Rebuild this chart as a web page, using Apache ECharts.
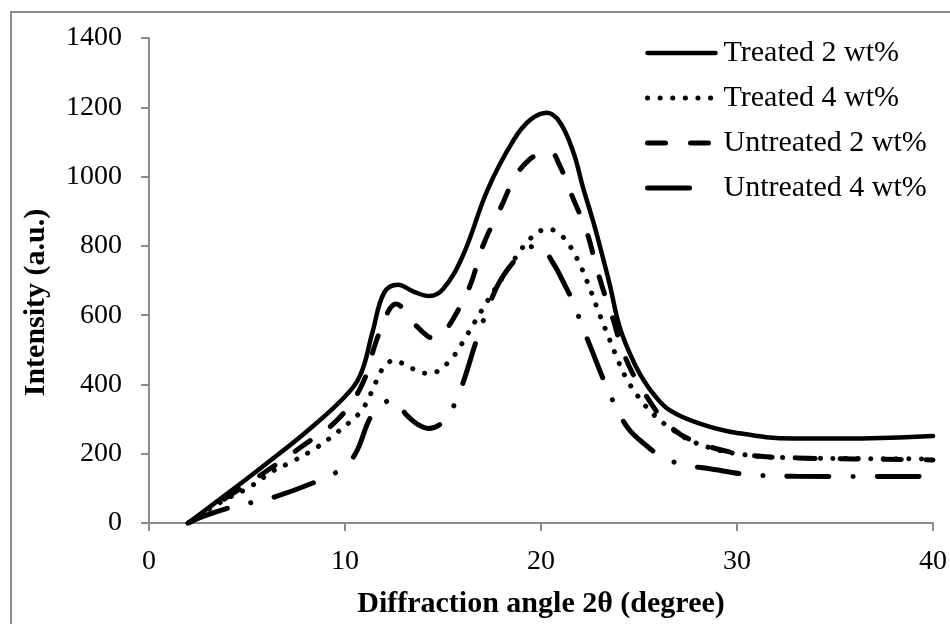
<!DOCTYPE html>
<html>
<head>
<meta charset="utf-8">
<script src="https://cdn.jsdelivr.net/npm/echarts@6/dist/echarts.min.js"></script>
<style>
  html, body { margin: 0; padding: 0; background: #fff; }
  #chart { width: 950px; height: 624px; }
</style>
</head>
<body>
<div id="chart"></div>
<script>
// series names (legend order)
const seriesNames = ["Treated 2 wt%", "Treated 4 wt%", "Untreated 2 wt%", "Untreated 4 wt%"];

// Treated 2 wt% (solid)
const treated2Angle = [2, 4, 6, 8, 10, 10.8, 11.4, 12, 12.7, 13.5, 14.3, 15, 16, 17.3, 18.6, 19.44, 20.3, 20.97, 21.65, 22.16, 22.67, 23, 23.5, 24, 24.54, 25.05, 25.73, 26.58, 28.1, 30, 32.9, 36, 40];
const treated2Int = [0, 85, 172, 262, 365, 430, 550, 665, 688, 668, 655, 675, 770, 965, 1105, 1163, 1184, 1156, 1070, 965, 869, 800, 690, 568, 488, 430, 373, 325, 287, 260, 244, 244, 251];

// Treated 4 wt% (dotted)
const treated4Angle = [2, 3.6, 5.2, 6.3, 7.4, 8.5, 9.5, 10.4, 10.85, 11.2, 11.45, 11.7, 12, 12.5, 13.06, 13.66, 14.2, 14.8, 15.27, 15.66, 16, 16.63, 17.26, 18, 18.93, 19.35, 19.81, 20.4, 20.97, 21.4, 21.7, 22, 22.47, 22.9, 23.35, 23.81, 24.3, 24.97, 25.78, 26.75, 27.86, 30, 33, 36, 40];
const treated4Int = [0, 58, 106, 149, 180, 216, 257, 299, 325, 359, 392, 421, 452, 469, 457, 440, 432, 440, 464, 490, 521, 581, 640, 705, 785, 814, 839, 848, 833, 806, 777, 745, 680, 615, 551, 486, 423, 364, 311, 268, 232, 200, 188, 186, 185];

// Untreated 2 wt% (dashed)
const untreated2Angle = [2, 4, 6, 7.9, 9.6, 10.85, 11.6, 12.2, 12.6, 13.4, 14.2, 14.6, 15.1, 15.7, 16.4, 17.05, 18, 18.67, 19.35, 20, 20.46, 20.97, 21.57, 22.33, 22.84, 23.3, 23.6, 24.3, 25.3, 26.6, 28.1, 30.5, 33, 36, 40];
const untreated2Int = [0, 75, 150, 225, 297, 397, 526, 610, 632, 583, 540, 533, 555, 607, 688, 802, 917, 998, 1046, 1068, 1072, 1030, 946, 841, 736, 650, 602, 478, 373, 278, 230, 197, 188, 185, 182];

// Untreated 4 wt% (long dash dot)
const untreated4Angle = [2, 2.8, 4.1, 5.3, 6.5, 8.55, 9.7, 10.5, 11.36, 12.1, 12.5, 13.15, 13.7, 14.25, 15, 15.66, 16.1, 16.7, 17.3, 17.9, 18.8, 19.4, 19.9, 20.6, 21.1, 21.65, 22.07, 22.5, 23.35, 23.86, 24.45, 25.3, 26.16, 27.26, 28.45, 30.75, 33, 40];
const untreated4Int = [0, 20, 44, 60, 77, 120, 152, 197, 311, 350, 355, 311, 285, 273, 292, 351, 418, 526, 620, 698, 767, 795, 800, 752, 700, 636, 573, 512, 392, 332, 273, 227, 192, 168, 158, 139, 135, 134];

// axis ticks
const xTicks = [0, 10, 20, 30, 40];
const yTicks = [0, 200, 400, 600, 800, 1000, 1200, 1400];

const pairs = (xs, ys) => xs.map((x, i) => [x, ys[i]]);

const font = "Liberation Serif";
const axisGray = "#8c8c8c";

const lineStyles = [
  { color: "#000", width: 4.5, type: "solid", cap: "round" },
  { color: "#000", width: 5, type: [0.1, 12.5], cap: "round" },
  { color: "#000", width: 5, type: [18, 25], cap: "round" },
  { color: "#000", width: 5, type: [42, 24, 0.1, 24], cap: "round" },
];
const seriesData = [
  pairs(treated2Angle, treated2Int),
  pairs(treated4Angle, treated4Int),
  pairs(untreated2Angle, untreated2Int),
  pairs(untreated4Angle, untreated4Int),
];

const myChart = echarts.init(document.getElementById("chart"));

const option = {
  animation: false,
  backgroundColor: "#fff",
  graphic: [
    {
      type: "rect",
      shape: { x: 11, y: 12, width: 960, height: 640 },
      style: { fill: "none", stroke: axisGray, lineWidth: 2 },
      silent: true,
    },
  ],
  grid: { left: 149, right: 17, top: 38, bottom: 97 },
  legend: {
    orient: "vertical",
    left: 640,
    top: 33,
    itemWidth: 68,
    itemHeight: 14,
    itemGap: 15,
    textStyle: { fontFamily: font, fontSize: 30, color: "#000", lineHeight: 30, padding: [0, 0, 0, 3] },
    data: seriesNames.map((n, i) => ({
      name: n,
      itemStyle: { opacity: 0 },
      lineStyle: i === 3 ? { type: [42, 40], cap: "round", width: 5, color: "#000" } : lineStyles[i],
    })),
  },
  xAxis: {
    type: "value",
    min: xTicks[0],
    max: xTicks[xTicks.length - 1],
    interval: 10,
    name: "Diffraction angle 2θ (degree)",
    nameLocation: "middle",
    nameGap: 66,
    nameTextStyle: { fontFamily: font, fontSize: 30, fontWeight: "bold", color: "#000" },
    axisLine: { onZero: false, lineStyle: { color: axisGray, width: 2 } },
    axisTick: { show: true, length: 8, lineStyle: { color: axisGray, width: 2 } },
    axisLabel: { fontFamily: font, fontSize: 28, color: "#000", margin: 25, formatter: (v) => String(v) },
    splitLine: { show: false },
  },
  yAxis: {
    type: "value",
    min: yTicks[0],
    max: yTicks[yTicks.length - 1],
    interval: 200,
    name: "Intensity (a.u.)",
    nameLocation: "middle",
    nameGap: 98,
    nameTextStyle: { fontFamily: font, fontSize: 30, fontWeight: "bold", color: "#000", padding: [0, 44, 0, 0] },
    axisLine: { show: true, lineStyle: { color: axisGray, width: 2 } },
    axisTick: { show: true, length: 8, lineStyle: { color: axisGray, width: 2 } },
    axisLabel: { fontFamily: font, fontSize: 28, color: "#000", margin: 27, formatter: (v) => String(v) },
    splitLine: { show: false },
  },
  series: seriesNames.map((n, i) => ({
    name: n,
    type: "line",
    data: seriesData[i],
    smooth: 0.4,
    symbol: "none",
    color: "#000",
    lineStyle: lineStyles[i],
    z: 10 - i,
  })),
};

option && myChart.setOption(option);
</script>
</body>
</html>
